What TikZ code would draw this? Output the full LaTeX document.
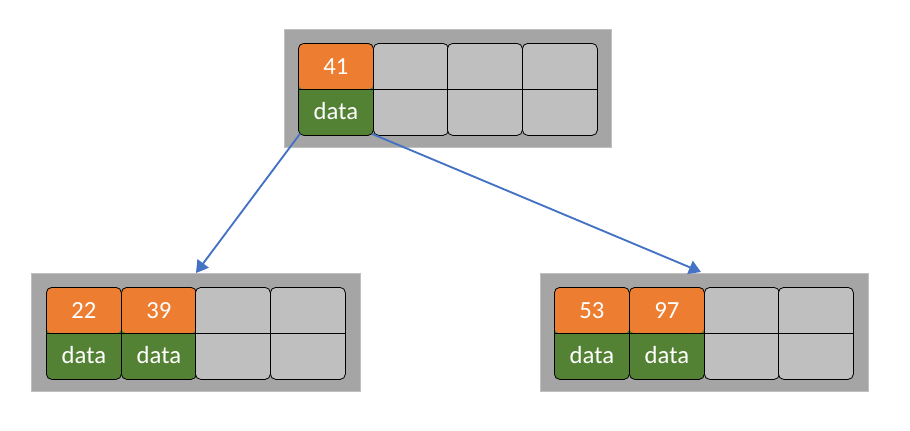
\documentclass[tikz,border=0pt]{standalone}
\usepackage{fontspec}
\setmainfont{Carlito}
\usetikzlibrary{arrows.meta,calc}
\definecolor{korange}{HTML}{ED7D31}
\definecolor{kgreen}{HTML}{548235}
\definecolor{cellgray}{HTML}{BFBFBF}
\definecolor{outergray}{HTML}{A5A5A5}
\definecolor{arrowblue}{HTML}{4472C4}
\tikzset{
  outerbox/.style={anchor=north west, inner sep=0pt, fill=outergray, draw=cellgray, line width=0.6pt},
  colbox/.style n args={2}{anchor=north west, inner sep=0pt, minimum width=56.25pt, minimum height=69pt,
    rounded corners=4pt, draw=black, line width=0.6pt, fill=#2,
    path picture={\fill[#1] (path picture bounding box.north west) rectangle (path picture bounding box.east);
      \draw[black, line width=0.6pt] (path picture bounding box.west) -- (path picture bounding box.east);}},
  lbl/.style={text=white, font=\fontsize{18.5}{22}\selectfont, inner sep=0pt},
  link/.style={draw=arrowblue, line width=1.4pt, -{Triangle[width=10.5pt,length=9pt]}}
}
\newcommand\bcol[6]{%
  \node[colbox={#4}{#5}] (#1) at (#2,#3) {};
  \node[lbl] (#1-k) at ($(#1.center)+(0,-23)$) {#6};
}
\newcommand\dcol[1]{\node[lbl] (#1-d) at ($(#1.center)+(0,22)$) {data};}
\begin{document}
\begin{tikzpicture}[x=0.75pt,y=-0.75pt]
\useasboundingbox (0,0) rectangle (910,430);
% top node
\node[outerbox, minimum width=245.25pt, minimum height=88.5pt] (top) at (284,29) {};
\bcol{t1}{298}{43}{korange}{kgreen}{41}\dcol{t1}
\bcol{t2}{373}{43}{cellgray}{cellgray}{}
\bcol{t3}{447}{43}{cellgray}{cellgray}{}
\bcol{t4}{522}{43}{cellgray}{cellgray}{}
% bottom left
\node[outerbox, minimum width=246.75pt, minimum height=88.5pt] (left) at (31,273) {};
\bcol{l1}{46}{287}{korange}{kgreen}{22}\dcol{l1}
\bcol{l2}{121}{287}{korange}{kgreen}{39}\dcol{l2}
\bcol{l3}{195}{287}{cellgray}{cellgray}{}
\bcol{l4}{270}{287}{cellgray}{cellgray}{}
% bottom right
\node[outerbox, minimum width=246pt, minimum height=88.5pt] (right) at (540,273) {};
\bcol{r1}{554}{287}{korange}{kgreen}{53}\dcol{r1}
\bcol{r2}{629}{287}{korange}{kgreen}{97}\dcol{r2}
\bcol{r3}{704}{287}{cellgray}{cellgray}{}
\bcol{r4}{778}{287}{cellgray}{cellgray}{}
% arrows
\coordinate (tipL) at (196,273);
\coordinate (tipR) at (701,272);
\draw[link] ($(t1.south west)+(2,-2)$) -- (tipL);
\draw[link] ($(t1.south east)+(-2,-2)$) -- (tipR);
\end{tikzpicture}
\end{document}
